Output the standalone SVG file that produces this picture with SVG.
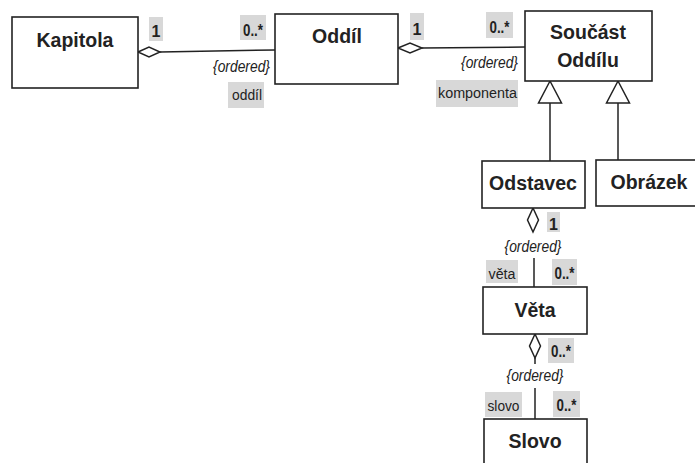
<svg xmlns="http://www.w3.org/2000/svg" width="695" height="463" viewBox="0 0 695 463">
<style>
.box{fill:#fff;stroke:#222;stroke-width:1.6}
.title{font-family:"Liberation Sans",Arial,sans-serif;font-weight:bold;font-size:19.5px;fill:#222;text-anchor:middle}
.line{fill:none;stroke:#222;stroke-width:1.5}
.dia{fill:#fff;stroke:#222;stroke-width:1.5}
.tri{fill:#fff;stroke:#222;stroke-width:1.5}
.bg{fill:#d8d8d8}
.mult{font-family:"Liberation Sans",Arial,sans-serif;font-weight:bold;font-size:16px;fill:#222;text-anchor:middle}
.role{font-family:"Liberation Sans",Arial,sans-serif;font-size:15.5px;fill:#222;text-anchor:middle}
.ord{font-family:"Liberation Sans",Arial,sans-serif;font-style:italic;font-size:16px;fill:#222}
</style>
<rect width="695" height="463" fill="#fff"/>
<g id="connectors">
  <line class="line" x1="160" y1="52" x2="275" y2="50"/>
  <polygon class="dia" points="138,52 149,47 160,52 149,57"/>
  <line class="line" x1="422" y1="48" x2="525" y2="47"/>
  <polygon class="dia" points="398,48 410,43 422,48 410,53"/>
  <line class="line" x1="550" y1="103" x2="550" y2="161"/>
  <polygon class="tri" points="550,81 561.5,103 538.5,103"/>
  <line class="line" x1="618" y1="103" x2="618" y2="160"/>
  <polygon class="tri" points="618,81 629.5,103 606.5,103"/>
  <polygon class="dia" points="533,208 538.5,220 533,232 527.5,220"/>
  <line class="line" x1="534" y1="258" x2="534" y2="287"/>
  <polygon class="dia" points="535,334 540.5,346 535,358 529.5,346"/>
  <line class="line" x1="535" y1="358" x2="535" y2="364"/>
  <line class="line" x1="535" y1="388" x2="535" y2="419"/>
  <rect class="bg" x="149" y="17" width="14" height="24"/>
  <text class="mult" x="156" y="37">1</text>
  <rect class="bg" x="240" y="15" width="26" height="25"/>
  <text class="mult" x="253" y="36" textLength="20" lengthAdjust="spacingAndGlyphs">0..*</text>
  <text class="ord" x="270" y="72" text-anchor="end" textLength="57" lengthAdjust="spacingAndGlyphs">{ordered}</text>
  <rect class="bg" x="228" y="82" width="36" height="26"/>
  <text class="role" x="247" y="100" textLength="30" lengthAdjust="spacingAndGlyphs">oddíl</text>
  <rect class="bg" x="410" y="13" width="14" height="27"/>
  <text class="mult" x="417" y="35">1</text>
  <rect class="bg" x="486" y="12" width="27" height="26"/>
  <text class="mult" x="499.5" y="33" textLength="20" lengthAdjust="spacingAndGlyphs">0..*</text>
  <text class="ord" x="518" y="68" text-anchor="end" textLength="57" lengthAdjust="spacingAndGlyphs">{ordered}</text>
  <rect class="bg" x="436" y="80" width="82" height="27"/>
  <text class="role" x="477.5" y="98" textLength="79" lengthAdjust="spacingAndGlyphs">komponenta</text>
  <rect class="bg" x="547" y="212" width="13" height="20"/>
  <text class="mult" x="553.5" y="230">1</text>
  <text class="ord" x="533" y="252" text-anchor="middle" textLength="57" lengthAdjust="spacingAndGlyphs">{ordered}</text>
  <rect class="bg" x="486" y="260" width="32" height="23"/>
  <text class="role" x="502" y="279" textLength="27" lengthAdjust="spacingAndGlyphs">věta</text>
  <rect class="bg" x="552" y="259" width="25" height="26"/>
  <text class="mult" x="564.5" y="279" textLength="20" lengthAdjust="spacingAndGlyphs">0..*</text>
  <rect class="bg" x="548" y="338" width="26" height="25"/>
  <text class="mult" x="561" y="357" textLength="20" lengthAdjust="spacingAndGlyphs">0..*</text>
  <text class="ord" x="535" y="381" text-anchor="middle" textLength="57" lengthAdjust="spacingAndGlyphs">{ordered}</text>
  <rect class="bg" x="485" y="392" width="37" height="25"/>
  <text class="role" x="503.5" y="411" textLength="32" lengthAdjust="spacingAndGlyphs">slovo</text>
  <rect class="bg" x="553" y="391" width="27" height="26"/>
  <text class="mult" x="566.5" y="411" textLength="20" lengthAdjust="spacingAndGlyphs">0..*</text>
</g>
<g id="kapitola">
  <rect class="box" x="12" y="17" width="126" height="71"/>
  <text class="title" x="75" y="47">Kapitola</text>
</g>
<g id="oddil">
  <rect class="box" x="275" y="14" width="123" height="70"/>
  <text class="title" x="337" y="43">Oddíl</text>
</g>
<g id="soucast">
  <rect class="box" x="525" y="11" width="127" height="70"/>
  <text class="title" x="588" y="39">Součást</text>
  <text class="title" x="588" y="67">Oddílu</text>
</g>
<g id="odstavec">
  <rect class="box" x="482" y="161" width="103" height="47"/>
  <text class="title" x="533" y="190">Odstavec</text>
</g>
<g id="obrazek">
  <rect class="box" x="596" y="160" width="110" height="46"/>
  <text class="title" x="649" y="189">Obrázek</text>
</g>
<g id="veta">
  <rect class="box" x="483" y="287" width="104" height="47"/>
  <text class="title" x="535" y="317">Věta</text>
</g>
<g id="slovo">
  <rect class="box" x="484" y="419" width="103" height="60"/>
  <text class="title" x="535" y="448">Slovo</text>
</g>
</svg>
